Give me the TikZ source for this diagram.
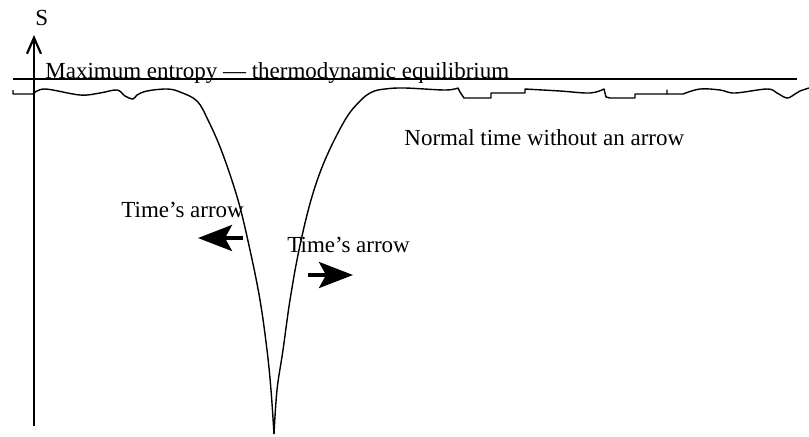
\documentclass[tikz,border=0pt]{standalone}
\usepackage{fontspec}
\setmainfont{Liberation Serif}
\usepackage{tikz}
\usetikzlibrary{arrows.meta}

\begin{document}
\begin{tikzpicture}[x=0.5pt, y=-0.5pt,
  every node/.style={font=\fontsize{11.5}{14}\selectfont, inner sep=0pt, anchor=base west},
  axis/.style={line width=1.1pt, -{Straight Barb[length=8pt, width=7pt]}},
  curve/.style={line width=0.7pt, line join=round},
  timearrow/.style={line width=1.8pt, -{Stealth[length=17pt, width=13pt, inset=3.5pt]}}]
  \useasboundingbox (0,0) rectangle (809,436);
  % axis and equilibrium level
  \coordinate (o) at (34,426);
  \coordinate (top) at (34,35);
  \draw[axis] (o) -- (top);
  \node (S) at (35,25) {S};
  \coordinate (eqa) at (13,79);
  \coordinate (eqb) at (797,79);
  \draw[line width=1pt] (eqa) -- (eqb);
  \node (maxent) at (45,78) {Maximum entropy --- thermodynamic equilibrium};
  % fluctuating entropy with the big dip
  \draw[curve] (13,90) -- (13,94) -- (33,94)
    -- plot[smooth, tension=0.6] coordinates {(33,94) (45,89) (80,95) (100,93) (117,90) (125,96) (133,99) (137,95) (147,91) (167,89) (180,92) (197,101) (208,120) (222,152) (238,200) (250,250) (260,300) (267,350) (271,390) (274,434)};
  \draw[curve] plot[smooth, tension=0.6] coordinates {(274,434) (277,390) (283,350) (290,300) (299,250) (311,200) (325,160) (345,120) (360,101) (372,92) (385,89) (405,88) (445,90) (458,88)}
    -- (460,92) -- (464,98) -- (491,98) -- (491,93) -- (525,93) -- (525,89)
    -- plot[smooth, tension=0.6] coordinates {(525,89) (560,91) (590,93) (604,89)}
    -- (606,97) -- (610,98) -- (635,98) -- (635,94) -- (667,94) -- (667,90) -- (667,94) -- (683,94)
    -- plot[smooth, tension=0.6] coordinates {(683,94) (700,89) (720,90) (735,93) (767,89) (777,93) (787,98) (795,94) (800,91) (809,88)};
  \node (normal) at (404,145) {Normal time without an arrow};
  % time's arrows
  \node (leftlbl) at (121,217) {Time’s arrow};
  \coordinate (la) at (243,238);
  \coordinate (lb) at (198,238);
  \draw[timearrow] (la) -- (lb);
  \node (rightlbl) at (287,252) {Time’s arrow};
  \coordinate (ra) at (308,275);
  \coordinate (rb) at (353,275);
  \draw[timearrow] (ra) -- (rb);
\end{tikzpicture}
\end{document}
